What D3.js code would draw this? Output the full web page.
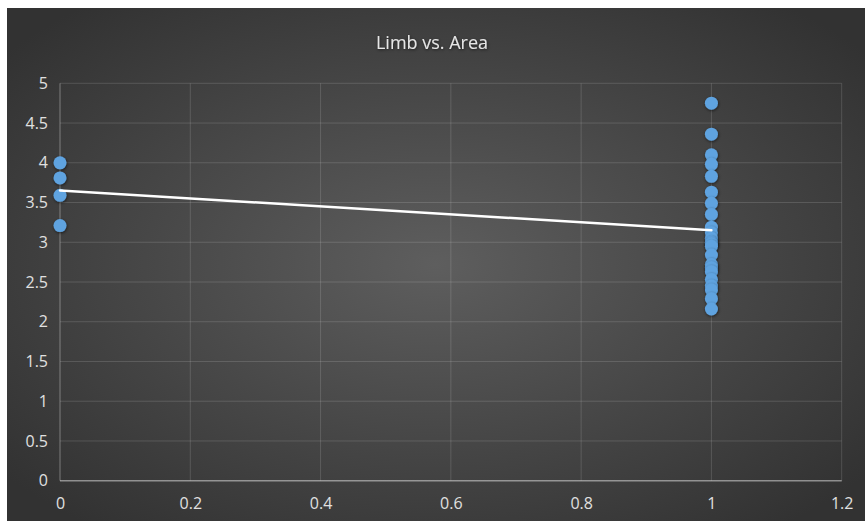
<!DOCTYPE html>
<html><head><meta charset="utf-8">
<script src="https://cdn.jsdelivr.net/npm/d3@7"></script>
<style>body{margin:0;background:#fff;}svg{display:block;}</style>
</head><body>
<script>
const title = "Limb vs. Area";
const groupX0 = 0;
const valuesX0 = [4.00, 3.81, 3.59, 3.21];
const groupX1 = 1;
const valuesX1 = [4.75, 4.36, 4.10, 3.98, 3.83, 3.63, 3.49, 3.35, 3.19, 3.12, 3.05, 3.00, 2.98, 2.95, 2.84, 2.72, 2.68, 2.63, 2.53, 2.45, 2.40, 2.29, 2.16];
const xTicks = [0, 0.2, 0.4, 0.6, 0.8, 1, 1.2];
const yTicks = [0, 0.5, 1, 1.5, 2, 2.5, 3, 3.5, 4, 4.5, 5];

const W = 865, H = 521;
const svg = d3.select("body").append("svg").attr("width", W).attr("height", H);
const defs = svg.append("defs");
const rg = defs.append("radialGradient").attr("id","bg").attr("cx","50%").attr("cy","50%").attr("r","65%");
rg.append("stop").attr("offset","0%").attr("stop-color","#5e5e5e");
rg.append("stop").attr("offset","100%").attr("stop-color","#323232");
const f = defs.append("filter").attr("id","sh").attr("x","-50%").attr("y","-50%").attr("width","200%").attr("height","200%");
f.append("feDropShadow").attr("dx",0.5).attr("dy",1).attr("stdDeviation",1.5).attr("flood-color","#000").attr("flood-opacity",0.6);

svg.append("rect").attr("x",7).attr("y",8).attr("width",W-7).attr("height",H-8).attr("fill","url(#bg)");

const x = d3.scaleLinear().domain([0,1.2]).range([60,841.7]);
const y = d3.scaleLinear().domain([0,5]).range([480.7,83.3]);

const g = svg.append("g");
g.selectAll(".hg").data(yTicks.filter(d=>d>0)).join("line")
  .attr("x1",x(0)).attr("x2",x(1.2)).attr("y1",d=>y(d)).attr("y2",d=>y(d))
  .attr("stroke","#ffffff").attr("stroke-opacity",0.14).attr("stroke-width",1);
g.selectAll(".vg").data(xTicks.filter(d=>d>0)).join("line")
  .attr("y1",y(0)).attr("y2",y(5)).attr("x1",d=>x(d)).attr("x2",d=>x(d))
  .attr("stroke","#ffffff").attr("stroke-opacity",0.14).attr("stroke-width",1);
g.append("line").attr("x1",x(0)).attr("x2",x(0)).attr("y1",y(0)).attr("y2",y(5))
  .attr("stroke","#ffffff").attr("stroke-opacity",0.35).attr("stroke-width",1);
g.append("line").attr("x1",x(0)).attr("x2",x(1.2)).attr("y1",y(0)).attr("y2",y(0))
  .attr("stroke","#ffffff").attr("stroke-opacity",0.45).attr("stroke-width",1.5);

const xAxis = d3.axisBottom(x).tickValues(xTicks).tickSize(0).tickPadding(17).tickFormat(d3.format("~g"));
const yAxis = d3.axisLeft(y).tickValues(yTicks).tickSize(0).tickPadding(12).tickFormat(d3.format("~g"));
const gx = svg.append("g").attr("transform",`translate(0,${y(0)})`).call(xAxis);
const gy = svg.append("g").attr("transform",`translate(${x(0)},0)`).call(yAxis);
[gx,gy].forEach(a=>{
  a.select(".domain").remove();
  a.attr("font-size",null).attr("font-family",null);
  a.selectAll("text").attr("fill","#e0e0e0").style("font-size","16px").style("font-family","'Open Sans', sans-serif");
});

const pts = valuesX0.map(v=>({x:groupX0,y:v})).concat(valuesX1.map(v=>({x:groupX1,y:v})));
svg.append("g").selectAll("circle").data(pts).join("circle")
  .attr("cx",d=>x(d.x)).attr("cy",d=>y(d.y)).attr("r",6.5)
  .attr("fill","#5fa3e0").attr("filter","url(#sh)");

const mx = d3.mean(pts,d=>d.x), my = d3.mean(pts,d=>d.y);
const slope = d3.sum(pts,d=>(d.x-mx)*(d.y-my))/d3.sum(pts,d=>(d.x-mx)**2);
const icpt = my - slope*mx;
svg.append("line").attr("x1",x(0)).attr("x2",x(1)).attr("y1",y(icpt)).attr("y2",y(icpt+slope))
  .attr("stroke","#ffffff").attr("stroke-width",2.5).attr("stroke-linecap","round");

svg.append("text").attr("x",432).attr("y",49).attr("text-anchor","middle")
  .attr("fill","#e6e6e6").style("font-size","18px").style("font-family","'Open Sans', sans-serif")
  .attr("filter","url(#sh)").text(title);
</script>
</body></html>
